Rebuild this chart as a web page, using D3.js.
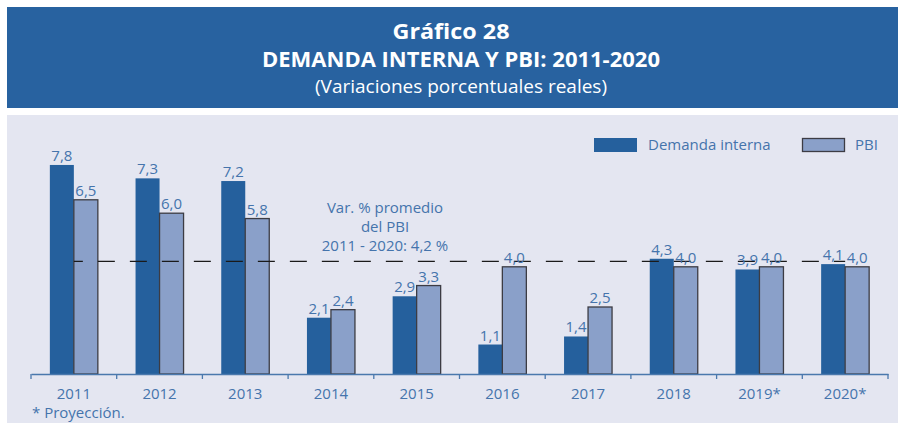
<!DOCTYPE html>
<html lang="es">
<head>
<meta charset="UTF-8">
<title>Gráfico 28 - Demanda interna y PBI</title>
<script src="https://d3js.org/d3.v7.min.js"></script>
<style>
  body { margin: 0; background: #fff; }
  svg { display: block; font-family: "Open Sans", sans-serif; }
  .lbl { font-size: 15px; fill: #4574ac; text-anchor: middle; }
</style>
</head>
<body>
<svg width="902" height="423"></svg>
<script>
// datos
const years = ["2011", "2012", "2013", "2014", "2015", "2016", "2017", "2018", "2019*", "2020*"];
const demanda = [7.8, 7.3, 7.2, 2.1, 2.9, 1.1, 1.4, 4.3, 3.9, 4.1];
const pbi = [6.5, 6.0, 5.8, 2.4, 3.3, 4.0, 2.5, 4.0, 4.0, 4.0];
const promedio = 4.2;
const noteLines = ["Var. % promedio", "del PBI", "2011 - 2020: 4,2 %"];

const darkBlue = "#25609d", lightBlue = "#8aa0c9", textBlue = "#4574ac";
const svg = d3.select("svg");
const fmt = v => v.toFixed(1).replace(".", ",");

// cabecera
svg.append("rect").attr("x", 7).attr("y", 7).attr("width", 891).attr("height", 101).attr("fill", "#2862a0");
svg.append("text").attr("x", 451).attr("y", 39).attr("text-anchor", "middle")
  .attr("fill", "#fff").style("font-size", "21px").style("font-weight", "bold")
  .attr("textLength", 117).attr("lengthAdjust", "spacingAndGlyphs").text("Gráfico 28");
svg.append("text").attr("x", 461).attr("y", 67).attr("text-anchor", "middle")
  .attr("fill", "#fff").style("font-size", "21px").style("font-weight", "bold")
  .attr("textLength", 398).attr("lengthAdjust", "spacingAndGlyphs").text("DEMANDA INTERNA Y PBI: 2011-2020");
svg.append("text").attr("x", 461).attr("y", 93).attr("text-anchor", "middle")
  .attr("fill", "#fff").style("font-size", "19px").text("(Variaciones porcentuales reales)");

// panel
svg.append("rect").attr("x", 7).attr("y", 115).attr("width", 891).attr("height", 308).attr("fill", "#e4e6f1");

// escalas
const x = d3.scaleBand().domain(years).range([31, 888]).padding(0);
const y = d3.scaleLinear().domain([0, 8]).range([374, 374 - 8 * 26.8]);
const bw = 24;

// barras
svg.selectAll(".dem").data(demanda).enter().append("rect")
  .attr("x", (d, i) => x(years[i]) + x.bandwidth() / 2 - bw)
  .attr("y", d => y(d)).attr("width", bw).attr("height", d => y(0) - y(d))
  .attr("fill", darkBlue);

svg.selectAll(".pbi").data(pbi).enter().append("rect")
  .attr("x", (d, i) => x(years[i]) + x.bandwidth() / 2)
  .attr("y", d => y(d)).attr("width", bw).attr("height", d => y(0) - y(d))
  .attr("fill", lightBlue).attr("stroke", "#3c3c44").attr("stroke-width", 1.3);

// linea de promedio
svg.append("line")
  .attr("x1", x(years[0]) + x.bandwidth() / 2).attr("x2", x(years[years.length - 1]) + x.bandwidth() / 2)
  .attr("y1", y(promedio)).attr("y2", y(promedio))
  .attr("stroke", "#1a1a1a").attr("stroke-width", 1.3)
  .attr("stroke-dasharray", "17,15").attr("stroke-dashoffset", 8);

// etiquetas
svg.selectAll(".ld").data(demanda).enter().append("text").attr("class", "lbl")
  .attr("x", (d, i) => x(years[i]) + x.bandwidth() / 2 - bw / 2)
  .attr("y", d => y(d) - 4).text(fmt);
svg.selectAll(".lp").data(pbi).enter().append("text").attr("class", "lbl")
  .attr("x", (d, i) => x(years[i]) + x.bandwidth() / 2 + bw / 2)
  .attr("y", d => y(d) - 4).text(fmt);

// eje x
const axis = svg.append("g").attr("transform", "translate(0,374)")
  .call(d3.axisBottom(x).tickSize(0).tickPadding(14));
axis.select(".domain").attr("stroke", "#4a78ad").attr("stroke-width", 1.3);
axis.selectAll("text").style("font-size", "15px").style("font-family", "Open Sans").attr("fill", textBlue);
const bounds = years.map(d => x(d)).concat([x.range()[1]]);
axis.selectAll(".bound").data(bounds).enter().append("line")
  .attr("x1", d => d).attr("x2", d => d).attr("y1", 0).attr("y2", 5)
  .attr("stroke", "#4a78ad").attr("stroke-width", 1.3);

// nota
const note = svg.append("text").attr("class", "lbl").attr("x", 385).attr("y", 213);
note.selectAll("tspan").data(noteLines).enter().append("tspan")
  .attr("x", 385).attr("dy", (d, i) => i === 0 ? 0 : 19.2).text(d => d);

// leyenda
svg.append("rect").attr("x", 594).attr("y", 138).attr("width", 43).attr("height", 14).attr("fill", darkBlue);
svg.append("text").attr("x", 648).attr("y", 150).attr("fill", textBlue).style("font-size", "15px").text("Demanda interna");
svg.append("rect").attr("x", 802.5).attr("y", 138.5).attr("width", 42).attr("height", 13)
  .attr("fill", lightBlue).attr("stroke", "#3c3c44").attr("stroke-width", 1.3);
svg.append("text").attr("x", 855).attr("y", 150).attr("fill", textBlue).style("font-size", "15px").text("PBI");

// pie
svg.append("text").attr("x", 32).attr("y", 418).attr("fill", textBlue).style("font-size", "15px").text("* Proyección.");
</script>
</body>
</html>
